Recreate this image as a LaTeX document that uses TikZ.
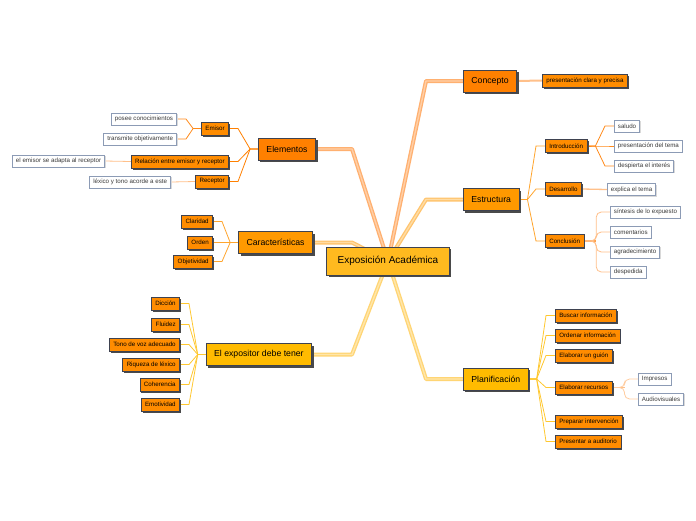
\documentclass[tikz,border=0pt]{standalone}
\usepackage{fontspec}
\setmainfont{Liberation Sans}
\usepackage{xcolor}
\usepackage{tikz}
\usetikzlibrary{positioning, backgrounds, calc, shadows}
\definecolor{hubgold}{HTML}{FFBA1F}
\definecolor{deeporange}{HTML}{FF8000}
\definecolor{midorange}{HTML}{FF9900}
\definecolor{goldfill}{HTML}{FFBB00}
\definecolor{suborange}{HTML}{FF8C00}
\definecolor{boxedge}{HTML}{3E4250}
\definecolor{shadowgrey}{HTML}{4A4A4A}
\definecolor{leafedge}{HTML}{8C9BB5}
\definecolor{leaftext}{HTML}{3A3A3A}
\definecolor{trunkpeach}{HTML}{FFB070}
\definecolor{trunkpeachlt}{HTML}{FFCFA6}
\definecolor{trunkamber}{HTML}{FFC46E}
\definecolor{trunkamberlt}{HTML}{FFDCA4}
\definecolor{trunkgold}{HTML}{FFD574}
\definecolor{trunkgoldlt}{HTML}{FFE6AA}
\definecolor{twigdeep}{HTML}{FF8A1A}
\definecolor{twigamber}{HTML}{FFA52E}
\definecolor{twigpeach}{HTML}{FFC08A}
\definecolor{twiggold}{HTML}{FFC830}

\tikzset{
  hubbox/.style={draw=boxedge, fill=hubgold, line width=0.8pt,
    font=\fontsize{10}{12}\selectfont, inner xsep=11pt, inner ysep=0pt,
    minimum height=28pt,
    drop shadow={shadow xshift=2pt, shadow yshift=-2pt, fill=shadowgrey, opacity=1}},
  mainbox/.style={draw=boxedge, line width=0.8pt,
    font=\fontsize{8.7}{10}\selectfont, inner xsep=8pt, inner ysep=0pt,
    minimum height=22pt,
    drop shadow={shadow xshift=2pt, shadow yshift=-2pt, fill=shadowgrey, opacity=1}},
  subbox/.style={draw=boxedge, fill=suborange, line width=0.6pt,
    font=\fontsize{6.2}{7}\selectfont, inner xsep=4pt, inner ysep=0pt,
    minimum height=13pt,
    drop shadow={shadow xshift=1.5pt, shadow yshift=-1.5pt, fill=shadowgrey, opacity=1}},
  leafbox/.style={draw=leafedge, fill=white, line width=0.8pt, text=leaftext,
    font=\fontsize{6.2}{7}\selectfont, inner xsep=3.5pt, inner ysep=0pt,
    minimum height=12pt,
    drop shadow={shadow xshift=1pt, shadow yshift=-1pt, fill=black!15, opacity=1}},
  trunk/.style={line width=1.3pt, double distance=1.4pt, line join=round},
  twig/.style={line width=0.8pt},
}

\newcommand{\linkright}[3][]{\draw[twig, #1] (#2.east) -- ++(8,0) -- ([xshift=-9pt]#3.west) -- (#3.west);}
\newcommand{\linkleft}[3][]{\draw[twig, #1] (#2.west) -- ++(-8,0) -- ([xshift=9pt]#3.east) -- (#3.east);}
\newcommand{\bendright}[3][]{\draw[twig, rounded corners=5pt, #1] (#2.east) -- ++(12,0) |- (#3.west);}

\begin{document}
\begin{tikzpicture}[x=1pt, y=-1pt]
  \useasboundingbox (0,0) rectangle (696,520);

  % centre
  \node[hubbox] (hub) at (388,261) {Exposición Académica};

  % right side
  \node[mainbox, fill=deeporange, anchor=west] (concepto) at (463,81) {Concepto};
  \node[subbox, anchor=west] (clara) at (542,80.5) {presentación clara y precisa};

  \node[mainbox, fill=midorange, anchor=west] (estructura) at (463,199.5) {Estructura};
  \node[subbox, anchor=west] (intro) at (545,146) {Introducción};
  \node[leafbox, anchor=west] (saludo) at (614,126) {saludo};
  \node[leafbox, anchor=west] (prestema) at (614,146) {presentación del tema};
  \node[leafbox, anchor=west] (interes) at (614,166) {despierta el interés};
  \node[subbox, anchor=west] (desarrollo) at (545,189) {Desarrollo};
  \node[leafbox, anchor=west] (explica) at (607,189.5) {explica el tema};
  \node[subbox, anchor=west] (conclusion) at (545,241) {Conclusión};
  \node[leafbox, anchor=west] (sintesis) at (610,212) {síntesis de lo expuesto};
  \node[leafbox, anchor=west] (comentarios) at (610,232) {comentarios};
  \node[leafbox, anchor=west] (agradec) at (610,252) {agradecimiento};
  \node[leafbox, anchor=west] (despedida) at (610,272) {despedida};

  \node[mainbox, fill=goldfill, anchor=west] (planif) at (463,379) {Planificación};
  \node[subbox, anchor=west] (buscar) at (555,315.5) {Buscar información};
  \node[subbox, anchor=west] (ordenar) at (555,335.5) {Ordenar información};
  \node[subbox, anchor=west] (guion) at (555,355.5) {Elaborar un guión};
  \node[subbox, anchor=west] (recursos) at (555,387.5) {Elaborar recursos};
  \node[leafbox, anchor=west] (impresos) at (638,379) {Impresos};
  \node[leafbox, anchor=west] (audiovis) at (638,399) {Audiovisuales};
  \node[subbox, anchor=west] (preparar) at (555,421.5) {Preparar intervención};
  \node[subbox, anchor=west] (presentar) at (555,441.5) {Presentar a auditorio};

  % left side
  \node[mainbox, fill=deeporange, anchor=east] (elementos) at (316,149) {Elementos};
  \node[subbox, anchor=east] (emisor) at (229,128.5) {Emisor};
  \node[leafbox, anchor=east] (posee) at (177,119) {posee conocimientos};
  \node[leafbox, anchor=east] (transmite) at (177,139) {transmite objetivamente};
  \node[subbox, anchor=east] (relacion) at (229,161.5) {Relación entre emisor y receptor};
  \node[leafbox, anchor=east] (adapta) at (105,161) {el emisor se adapta al receptor};
  \node[subbox, anchor=east] (receptor) at (229,181.5) {Receptor};
  \node[leafbox, anchor=east] (lexico) at (171,182) {léxico y tono acorde a este};

  \node[mainbox, fill=midorange, anchor=east] (caract) at (313,242.5) {Características};
  \node[subbox, anchor=east] (claridad) at (213,221.5) {Claridad};
  \node[subbox, anchor=east] (orden) at (213,242.5) {Orden};
  \node[subbox, anchor=east] (objetiv) at (213,261.5) {Objetividad};

  \node[mainbox, fill=goldfill, anchor=east] (expositor) at (312,354.5) {El expositor debe tener};
  \node[subbox, anchor=east] (diccion) at (180,303.5) {Dicción};
  \node[subbox, anchor=east] (fluidez) at (180,324.5) {Fluidez};
  \node[subbox, anchor=east] (tono) at (180,344.5) {Tono de voz adecuado};
  \node[subbox, anchor=east] (riqueza) at (180,364.5) {Riqueza de léxico};
  \node[subbox, anchor=east] (coherencia) at (180,384.5) {Coherencia};
  \node[subbox, anchor=east] (emotiv) at (180,404.5) {Emotividad};

  \begin{scope}[on background layer]
    \fill[white] (0,0) rectangle (696,520);
    % main branches
    \draw[trunk, draw=trunkpeach, double=trunkpeachlt] (concepto.west) -- ++(-37,0) -- (hub.center);
    \draw[trunk, draw=trunkpeach, double=trunkpeachlt] (elementos.east) -- ++(36,0) -- (hub.center);
    \draw[trunk, draw=trunkamber, double=trunkamberlt] (estructura.west) -- ++(-37,0) -- (hub.center);
    \draw[trunk, draw=trunkamber, double=trunkamberlt] (caract.east) -- ++(39,0) -- (hub.center);
    \draw[trunk, draw=trunkgold, double=trunkgoldlt] (planif.west) -- ++(-37,0) -- (hub.center);
    \draw[trunk, draw=trunkgold, double=trunkgoldlt] (expositor.east) -- ++(40,0) -- (hub.center);

    % concepto
    \draw[twigpeach, line width=2pt] (concepto.east) -- (clara.west);

    % estructura
    \linkright[twigamber]{estructura}{intro}
    \linkright[twigamber]{estructura}{desarrollo}
    \linkright[twigamber]{estructura}{conclusion}
    \linkright[twigdeep]{intro}{saludo}
    \linkright[twigdeep]{intro}{prestema}
    \linkright[twigdeep]{intro}{interes}
    \draw[twigpeach, line width=1.3pt] (desarrollo.east) -- (explica.west);
    \draw[twigdeep!80, line width=1.8pt] (conclusion.east) -- ++(12,0);
    \bendright[twigpeach]{conclusion}{sintesis}
    \bendright[twigpeach]{conclusion}{comentarios}
    \bendright[twigpeach]{conclusion}{agradec}
    \bendright[twigpeach]{conclusion}{despedida}

    % planificacion
    \linkright[twiggold]{planif}{buscar}
    \linkright[twiggold]{planif}{ordenar}
    \linkright[twiggold]{planif}{guion}
    \linkright[twiggold]{planif}{recursos}
    \linkright[twiggold]{planif}{preparar}
    \linkright[twiggold]{planif}{presentar}
    \draw[twigpeach, line width=1.8pt] (recursos.east) -- ++(12,0);
    \bendright[twigpeach!80]{recursos}{impresos}
    \bendright[twigpeach!80]{recursos}{audiovis}

    % elementos
    \linkleft[deeporange]{elementos}{emisor}
    \linkleft[deeporange]{elementos}{relacion}
    \linkleft[deeporange]{elementos}{receptor}
    \linkleft[twigdeep]{emisor}{posee}
    \linkleft[twigdeep]{emisor}{transmite}
    \draw[twig, twigpeach] (relacion.west) -- (adapta.east);
    \draw[twig, twigpeach] (receptor.west) -- (lexico.east);

    % caracteristicas
    \linkleft[twigamber]{caract}{claridad}
    \linkleft[twigamber]{caract}{orden}
    \linkleft[twigamber]{caract}{objetiv}

    % expositor
    \linkleft[twiggold]{expositor}{diccion}
    \linkleft[twiggold]{expositor}{fluidez}
    \linkleft[twiggold]{expositor}{tono}
    \linkleft[twiggold]{expositor}{riqueza}
    \linkleft[twiggold]{expositor}{coherencia}
    \linkleft[twiggold]{expositor}{emotiv}
  \end{scope}
\end{tikzpicture}
\end{document}
